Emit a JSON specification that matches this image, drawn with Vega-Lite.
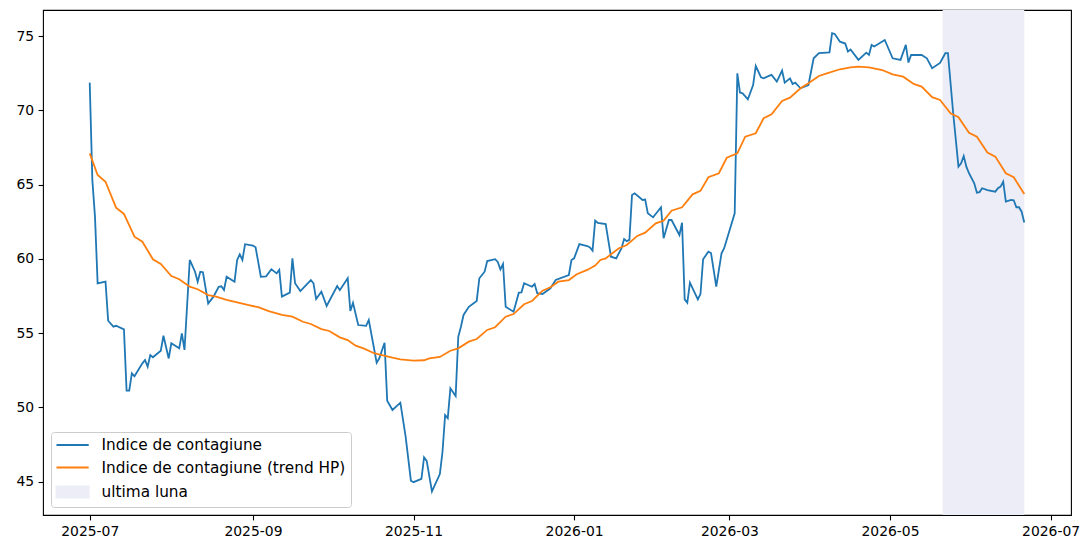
{
  "$schema": "https://vega.github.io/schema/vega-lite/v6.json",
  "width": 1028,
  "height": 505,
  "autosize": {"type": "none"},
  "padding": {"left": 43, "top": 10, "right": 18, "bottom": 25},
  "background": "white",
  "config": {
    "view": {"stroke": "#000000", "strokeWidth": 1.1},
    "axis": {"grid": false, "domain": false, "tickColor": "#000000", "tickSize": 4.9, "tickWidth": 1.1, "labelFont": "DejaVu Sans", "labelFontSize": 13.9, "labelColor": "#000000", "labelPadding": 4.5, "title": null},
    "legend": {"orient": "bottom-left", "offset": 8, "fillColor": "rgba(255,255,255,0.8)", "strokeColor": "#cccccc", "strokeWidth": 1, "cornerRadius": 3, "padding": 5, "labelFont": "DejaVu Sans", "labelFontSize": 15.3, "labelColor": "#000000", "labelLimit": 500, "symbolSize": 196, "symbolStrokeWidth": 1.8, "symbolOffset": 8.6, "labelOffset": 21, "rowPadding": 5.5}
  },
  "datasets": {
    "shade": [{"start": "2026-05-21", "end": "2026-06-21", "series": "ultima luna"}],
    "lines": [
      {"date": "2025-07-01", "value": 71.87, "series": "Indice de contagiune"},
      {"date": "2025-07-02", "value": 65.3, "series": "Indice de contagiune"},
      {"date": "2025-07-03", "value": 62.85, "series": "Indice de contagiune"},
      {"date": "2025-07-04", "value": 58.36, "series": "Indice de contagiune"},
      {"date": "2025-07-07", "value": 58.47, "series": "Indice de contagiune"},
      {"date": "2025-07-08", "value": 55.84, "series": "Indice de contagiune"},
      {"date": "2025-07-10", "value": 55.44, "series": "Indice de contagiune"},
      {"date": "2025-07-11", "value": 55.5, "series": "Indice de contagiune"},
      {"date": "2025-07-14", "value": 55.26, "series": "Indice de contagiune"},
      {"date": "2025-07-15", "value": 51.13, "series": "Indice de contagiune"},
      {"date": "2025-07-16", "value": 51.13, "series": "Indice de contagiune"},
      {"date": "2025-07-17", "value": 52.3, "series": "Indice de contagiune"},
      {"date": "2025-07-18", "value": 52.1, "series": "Indice de contagiune"},
      {"date": "2025-07-21", "value": 52.97, "series": "Indice de contagiune"},
      {"date": "2025-07-22", "value": 53.2, "series": "Indice de contagiune"},
      {"date": "2025-07-23", "value": 52.75, "series": "Indice de contagiune"},
      {"date": "2025-07-24", "value": 53.53, "series": "Indice de contagiune"},
      {"date": "2025-07-25", "value": 53.38, "series": "Indice de contagiune"},
      {"date": "2025-07-28", "value": 53.82, "series": "Indice de contagiune"},
      {"date": "2025-07-29", "value": 54.83, "series": "Indice de contagiune"},
      {"date": "2025-07-31", "value": 53.3, "series": "Indice de contagiune"},
      {"date": "2025-08-01", "value": 54.32, "series": "Indice de contagiune"},
      {"date": "2025-08-04", "value": 53.98, "series": "Indice de contagiune"},
      {"date": "2025-08-05", "value": 54.99, "series": "Indice de contagiune"},
      {"date": "2025-08-06", "value": 53.87, "series": "Indice de contagiune"},
      {"date": "2025-08-08", "value": 59.93, "series": "Indice de contagiune"},
      {"date": "2025-08-10", "value": 59.14, "series": "Indice de contagiune"},
      {"date": "2025-08-11", "value": 58.47, "series": "Indice de contagiune"},
      {"date": "2025-08-12", "value": 59.14, "series": "Indice de contagiune"},
      {"date": "2025-08-13", "value": 59.1, "series": "Indice de contagiune"},
      {"date": "2025-08-15", "value": 57.0, "series": "Indice de contagiune"},
      {"date": "2025-08-17", "value": 57.46, "series": "Indice de contagiune"},
      {"date": "2025-08-19", "value": 58.13, "series": "Indice de contagiune"},
      {"date": "2025-08-20", "value": 58.16, "series": "Indice de contagiune"},
      {"date": "2025-08-21", "value": 57.91, "series": "Indice de contagiune"},
      {"date": "2025-08-22", "value": 58.8, "series": "Indice de contagiune"},
      {"date": "2025-08-25", "value": 58.47, "series": "Indice de contagiune"},
      {"date": "2025-08-26", "value": 59.93, "series": "Indice de contagiune"},
      {"date": "2025-08-27", "value": 60.31, "series": "Indice de contagiune"},
      {"date": "2025-08-28", "value": 59.93, "series": "Indice de contagiune"},
      {"date": "2025-08-29", "value": 60.99, "series": "Indice de contagiune"},
      {"date": "2025-09-01", "value": 60.9, "series": "Indice de contagiune"},
      {"date": "2025-09-02", "value": 60.78, "series": "Indice de contagiune"},
      {"date": "2025-09-03", "value": 59.8, "series": "Indice de contagiune"},
      {"date": "2025-09-04", "value": 58.8, "series": "Indice de contagiune"},
      {"date": "2025-09-06", "value": 58.83, "series": "Indice de contagiune"},
      {"date": "2025-09-08", "value": 59.3, "series": "Indice de contagiune"},
      {"date": "2025-09-10", "value": 59.03, "series": "Indice de contagiune"},
      {"date": "2025-09-11", "value": 59.26, "series": "Indice de contagiune"},
      {"date": "2025-09-12", "value": 57.46, "series": "Indice de contagiune"},
      {"date": "2025-09-15", "value": 57.73, "series": "Indice de contagiune"},
      {"date": "2025-09-16", "value": 60.04, "series": "Indice de contagiune"},
      {"date": "2025-09-17", "value": 58.36, "series": "Indice de contagiune"},
      {"date": "2025-09-19", "value": 57.84, "series": "Indice de contagiune"},
      {"date": "2025-09-23", "value": 58.58, "series": "Indice de contagiune"},
      {"date": "2025-09-24", "value": 58.36, "series": "Indice de contagiune"},
      {"date": "2025-09-25", "value": 57.3, "series": "Indice de contagiune"},
      {"date": "2025-09-27", "value": 57.8, "series": "Indice de contagiune"},
      {"date": "2025-09-29", "value": 56.83, "series": "Indice de contagiune"},
      {"date": "2025-10-03", "value": 58.18, "series": "Indice de contagiune"},
      {"date": "2025-10-04", "value": 57.9, "series": "Indice de contagiune"},
      {"date": "2025-10-07", "value": 58.7, "series": "Indice de contagiune"},
      {"date": "2025-10-08", "value": 56.5, "series": "Indice de contagiune"},
      {"date": "2025-10-09", "value": 57.05, "series": "Indice de contagiune"},
      {"date": "2025-10-11", "value": 55.55, "series": "Indice de contagiune"},
      {"date": "2025-10-14", "value": 55.5, "series": "Indice de contagiune"},
      {"date": "2025-10-15", "value": 55.89, "series": "Indice de contagiune"},
      {"date": "2025-10-18", "value": 53.01, "series": "Indice de contagiune"},
      {"date": "2025-10-19", "value": 53.31, "series": "Indice de contagiune"},
      {"date": "2025-10-21", "value": 54.36, "series": "Indice de contagiune"},
      {"date": "2025-10-22", "value": 50.46, "series": "Indice de contagiune"},
      {"date": "2025-10-24", "value": 49.83, "series": "Indice de contagiune"},
      {"date": "2025-10-27", "value": 50.32, "series": "Indice de contagiune"},
      {"date": "2025-10-29", "value": 48.03, "series": "Indice de contagiune"},
      {"date": "2025-10-31", "value": 45.07, "series": "Indice de contagiune"},
      {"date": "2025-11-01", "value": 44.97, "series": "Indice de contagiune"},
      {"date": "2025-11-04", "value": 45.2, "series": "Indice de contagiune"},
      {"date": "2025-11-05", "value": 46.64, "series": "Indice de contagiune"},
      {"date": "2025-11-06", "value": 46.4, "series": "Indice de contagiune"},
      {"date": "2025-11-08", "value": 44.35, "series": "Indice de contagiune"},
      {"date": "2025-11-11", "value": 45.52, "series": "Indice de contagiune"},
      {"date": "2025-11-12", "value": 47.0, "series": "Indice de contagiune"},
      {"date": "2025-11-13", "value": 49.49, "series": "Indice de contagiune"},
      {"date": "2025-11-14", "value": 49.27, "series": "Indice de contagiune"},
      {"date": "2025-11-15", "value": 51.29, "series": "Indice de contagiune"},
      {"date": "2025-11-17", "value": 50.77, "series": "Indice de contagiune"},
      {"date": "2025-11-18", "value": 54.76, "series": "Indice de contagiune"},
      {"date": "2025-11-19", "value": 55.44, "series": "Indice de contagiune"},
      {"date": "2025-11-20", "value": 56.23, "series": "Indice de contagiune"},
      {"date": "2025-11-22", "value": 56.78, "series": "Indice de contagiune"},
      {"date": "2025-11-25", "value": 57.17, "series": "Indice de contagiune"},
      {"date": "2025-11-26", "value": 58.7, "series": "Indice de contagiune"},
      {"date": "2025-11-28", "value": 59.14, "series": "Indice de contagiune"},
      {"date": "2025-11-29", "value": 59.86, "series": "Indice de contagiune"},
      {"date": "2025-12-02", "value": 59.98, "series": "Indice de contagiune"},
      {"date": "2025-12-03", "value": 59.8, "series": "Indice de contagiune"},
      {"date": "2025-12-04", "value": 59.3, "series": "Indice de contagiune"},
      {"date": "2025-12-05", "value": 59.66, "series": "Indice de contagiune"},
      {"date": "2025-12-06", "value": 56.78, "series": "Indice de contagiune"},
      {"date": "2025-12-09", "value": 56.45, "series": "Indice de contagiune"},
      {"date": "2025-12-11", "value": 57.73, "series": "Indice de contagiune"},
      {"date": "2025-12-12", "value": 57.75, "series": "Indice de contagiune"},
      {"date": "2025-12-13", "value": 58.36, "series": "Indice de contagiune"},
      {"date": "2025-12-16", "value": 58.13, "series": "Indice de contagiune"},
      {"date": "2025-12-17", "value": 58.31, "series": "Indice de contagiune"},
      {"date": "2025-12-18", "value": 57.69, "series": "Indice de contagiune"},
      {"date": "2025-12-20", "value": 57.64, "series": "Indice de contagiune"},
      {"date": "2025-12-23", "value": 58.02, "series": "Indice de contagiune"},
      {"date": "2025-12-25", "value": 58.58, "series": "Indice de contagiune"},
      {"date": "2025-12-30", "value": 58.92, "series": "Indice de contagiune"},
      {"date": "2025-12-31", "value": 59.93, "series": "Indice de contagiune"},
      {"date": "2026-01-01", "value": 60.04, "series": "Indice de contagiune"},
      {"date": "2026-01-03", "value": 61.0, "series": "Indice de contagiune"},
      {"date": "2026-01-06", "value": 60.87, "series": "Indice de contagiune"},
      {"date": "2026-01-07", "value": 60.78, "series": "Indice de contagiune"},
      {"date": "2026-01-08", "value": 60.56, "series": "Indice de contagiune"},
      {"date": "2026-01-09", "value": 62.58, "series": "Indice de contagiune"},
      {"date": "2026-01-10", "value": 62.42, "series": "Indice de contagiune"},
      {"date": "2026-01-13", "value": 62.35, "series": "Indice de contagiune"},
      {"date": "2026-01-15", "value": 60.15, "series": "Indice de contagiune"},
      {"date": "2026-01-17", "value": 60.04, "series": "Indice de contagiune"},
      {"date": "2026-01-19", "value": 60.72, "series": "Indice de contagiune"},
      {"date": "2026-01-20", "value": 61.34, "series": "Indice de contagiune"},
      {"date": "2026-01-21", "value": 61.2, "series": "Indice de contagiune"},
      {"date": "2026-01-22", "value": 61.28, "series": "Indice de contagiune"},
      {"date": "2026-01-23", "value": 64.31, "series": "Indice de contagiune"},
      {"date": "2026-01-24", "value": 64.42, "series": "Indice de contagiune"},
      {"date": "2026-01-27", "value": 63.97, "series": "Indice de contagiune"},
      {"date": "2026-01-28", "value": 64.0, "series": "Indice de contagiune"},
      {"date": "2026-01-29", "value": 63.07, "series": "Indice de contagiune"},
      {"date": "2026-01-31", "value": 62.8, "series": "Indice de contagiune"},
      {"date": "2026-02-03", "value": 63.48, "series": "Indice de contagiune"},
      {"date": "2026-02-04", "value": 61.39, "series": "Indice de contagiune"},
      {"date": "2026-02-06", "value": 62.62, "series": "Indice de contagiune"},
      {"date": "2026-02-07", "value": 62.62, "series": "Indice de contagiune"},
      {"date": "2026-02-10", "value": 61.61, "series": "Indice de contagiune"},
      {"date": "2026-02-11", "value": 62.44, "series": "Indice de contagiune"},
      {"date": "2026-02-12", "value": 57.28, "series": "Indice de contagiune"},
      {"date": "2026-02-13", "value": 57.05, "series": "Indice de contagiune"},
      {"date": "2026-02-14", "value": 58.4, "series": "Indice de contagiune"},
      {"date": "2026-02-17", "value": 57.28, "series": "Indice de contagiune"},
      {"date": "2026-02-18", "value": 57.64, "series": "Indice de contagiune"},
      {"date": "2026-02-19", "value": 59.98, "series": "Indice de contagiune"},
      {"date": "2026-02-21", "value": 60.49, "series": "Indice de contagiune"},
      {"date": "2026-02-22", "value": 60.4, "series": "Indice de contagiune"},
      {"date": "2026-02-24", "value": 58.13, "series": "Indice de contagiune"},
      {"date": "2026-02-26", "value": 60.38, "series": "Indice de contagiune"},
      {"date": "2026-02-27", "value": 60.72, "series": "Indice de contagiune"},
      {"date": "2026-03-03", "value": 63.07, "series": "Indice de contagiune"},
      {"date": "2026-03-04", "value": 72.5, "series": "Indice de contagiune"},
      {"date": "2026-03-05", "value": 71.2, "series": "Indice de contagiune"},
      {"date": "2026-03-06", "value": 71.15, "series": "Indice de contagiune"},
      {"date": "2026-03-08", "value": 70.75, "series": "Indice de contagiune"},
      {"date": "2026-03-10", "value": 71.71, "series": "Indice de contagiune"},
      {"date": "2026-03-11", "value": 72.99, "series": "Indice de contagiune"},
      {"date": "2026-03-13", "value": 72.23, "series": "Indice de contagiune"},
      {"date": "2026-03-14", "value": 72.16, "series": "Indice de contagiune"},
      {"date": "2026-03-16", "value": 72.32, "series": "Indice de contagiune"},
      {"date": "2026-03-17", "value": 72.39, "series": "Indice de contagiune"},
      {"date": "2026-03-19", "value": 71.94, "series": "Indice de contagiune"},
      {"date": "2026-03-21", "value": 72.68, "series": "Indice de contagiune"},
      {"date": "2026-03-22", "value": 71.87, "series": "Indice de contagiune"},
      {"date": "2026-03-24", "value": 72.16, "series": "Indice de contagiune"},
      {"date": "2026-03-25", "value": 71.78, "series": "Indice de contagiune"},
      {"date": "2026-03-26", "value": 71.87, "series": "Indice de contagiune"},
      {"date": "2026-03-28", "value": 71.49, "series": "Indice de contagiune"},
      {"date": "2026-03-31", "value": 71.71, "series": "Indice de contagiune"},
      {"date": "2026-04-02", "value": 73.51, "series": "Indice de contagiune"},
      {"date": "2026-04-04", "value": 73.85, "series": "Indice de contagiune"},
      {"date": "2026-04-08", "value": 73.9, "series": "Indice de contagiune"},
      {"date": "2026-04-09", "value": 75.2, "series": "Indice de contagiune"},
      {"date": "2026-04-10", "value": 75.15, "series": "Indice de contagiune"},
      {"date": "2026-04-12", "value": 74.63, "series": "Indice de contagiune"},
      {"date": "2026-04-14", "value": 74.5, "series": "Indice de contagiune"},
      {"date": "2026-04-15", "value": 73.96, "series": "Indice de contagiune"},
      {"date": "2026-04-16", "value": 74.1, "series": "Indice de contagiune"},
      {"date": "2026-04-19", "value": 73.4, "series": "Indice de contagiune"},
      {"date": "2026-04-22", "value": 73.89, "series": "Indice de contagiune"},
      {"date": "2026-04-23", "value": 73.74, "series": "Indice de contagiune"},
      {"date": "2026-04-24", "value": 74.41, "series": "Indice de contagiune"},
      {"date": "2026-04-25", "value": 74.3, "series": "Indice de contagiune"},
      {"date": "2026-04-29", "value": 74.74, "series": "Indice de contagiune"},
      {"date": "2026-05-02", "value": 73.51, "series": "Indice de contagiune"},
      {"date": "2026-05-05", "value": 73.4, "series": "Indice de contagiune"},
      {"date": "2026-05-07", "value": 74.41, "series": "Indice de contagiune"},
      {"date": "2026-05-08", "value": 73.22, "series": "Indice de contagiune"},
      {"date": "2026-05-09", "value": 73.73, "series": "Indice de contagiune"},
      {"date": "2026-05-13", "value": 73.73, "series": "Indice de contagiune"},
      {"date": "2026-05-15", "value": 73.51, "series": "Indice de contagiune"},
      {"date": "2026-05-17", "value": 72.84, "series": "Indice de contagiune"},
      {"date": "2026-05-20", "value": 73.2, "series": "Indice de contagiune"},
      {"date": "2026-05-22", "value": 73.85, "series": "Indice de contagiune"},
      {"date": "2026-05-23", "value": 73.85, "series": "Indice de contagiune"},
      {"date": "2026-05-25", "value": 69.81, "series": "Indice de contagiune"},
      {"date": "2026-05-27", "value": 66.21, "series": "Indice de contagiune"},
      {"date": "2026-05-28", "value": 66.44, "series": "Indice de contagiune"},
      {"date": "2026-05-29", "value": 66.93, "series": "Indice de contagiune"},
      {"date": "2026-05-30", "value": 66.21, "series": "Indice de contagiune"},
      {"date": "2026-05-31", "value": 65.77, "series": "Indice de contagiune"},
      {"date": "2026-06-02", "value": 65.09, "series": "Indice de contagiune"},
      {"date": "2026-06-03", "value": 64.46, "series": "Indice de contagiune"},
      {"date": "2026-06-04", "value": 64.5, "series": "Indice de contagiune"},
      {"date": "2026-06-05", "value": 64.76, "series": "Indice de contagiune"},
      {"date": "2026-06-07", "value": 64.64, "series": "Indice de contagiune"},
      {"date": "2026-06-10", "value": 64.53, "series": "Indice de contagiune"},
      {"date": "2026-06-11", "value": 64.76, "series": "Indice de contagiune"},
      {"date": "2026-06-12", "value": 64.87, "series": "Indice de contagiune"},
      {"date": "2026-06-13", "value": 65.2, "series": "Indice de contagiune"},
      {"date": "2026-06-14", "value": 63.86, "series": "Indice de contagiune"},
      {"date": "2026-06-16", "value": 63.97, "series": "Indice de contagiune"},
      {"date": "2026-06-17", "value": 63.95, "series": "Indice de contagiune"},
      {"date": "2026-06-18", "value": 63.48, "series": "Indice de contagiune"},
      {"date": "2026-06-19", "value": 63.48, "series": "Indice de contagiune"},
      {"date": "2026-06-20", "value": 63.18, "series": "Indice de contagiune"},
      {"date": "2026-06-21", "value": 62.45, "series": "Indice de contagiune"},
      {"date": "2025-07-01", "value": 67.11, "series": "Indice de contagiune (trend HP)"},
      {"date": "2025-07-04", "value": 65.65, "series": "Indice de contagiune (trend HP)"},
      {"date": "2025-07-07", "value": 65.2, "series": "Indice de contagiune (trend HP)"},
      {"date": "2025-07-11", "value": 63.45, "series": "Indice de contagiune (trend HP)"},
      {"date": "2025-07-14", "value": 63.03, "series": "Indice de contagiune (trend HP)"},
      {"date": "2025-07-18", "value": 61.5, "series": "Indice de contagiune (trend HP)"},
      {"date": "2025-07-21", "value": 61.16, "series": "Indice de contagiune (trend HP)"},
      {"date": "2025-07-25", "value": 59.98, "series": "Indice de contagiune (trend HP)"},
      {"date": "2025-07-28", "value": 59.66, "series": "Indice de contagiune (trend HP)"},
      {"date": "2025-08-01", "value": 58.85, "series": "Indice de contagiune (trend HP)"},
      {"date": "2025-08-04", "value": 58.63, "series": "Indice de contagiune (trend HP)"},
      {"date": "2025-08-08", "value": 58.13, "series": "Indice de contagiune (trend HP)"},
      {"date": "2025-08-11", "value": 57.96, "series": "Indice de contagiune (trend HP)"},
      {"date": "2025-08-15", "value": 57.57, "series": "Indice de contagiune (trend HP)"},
      {"date": "2025-08-18", "value": 57.46, "series": "Indice de contagiune (trend HP)"},
      {"date": "2025-08-22", "value": 57.24, "series": "Indice de contagiune (trend HP)"},
      {"date": "2025-08-26", "value": 57.08, "series": "Indice de contagiune (trend HP)"},
      {"date": "2025-08-30", "value": 56.9, "series": "Indice de contagiune (trend HP)"},
      {"date": "2025-09-03", "value": 56.75, "series": "Indice de contagiune (trend HP)"},
      {"date": "2025-09-07", "value": 56.49, "series": "Indice de contagiune (trend HP)"},
      {"date": "2025-09-12", "value": 56.23, "series": "Indice de contagiune (trend HP)"},
      {"date": "2025-09-16", "value": 56.11, "series": "Indice de contagiune (trend HP)"},
      {"date": "2025-09-20", "value": 55.77, "series": "Indice de contagiune (trend HP)"},
      {"date": "2025-09-23", "value": 55.62, "series": "Indice de contagiune (trend HP)"},
      {"date": "2025-09-27", "value": 55.28, "series": "Indice de contagiune (trend HP)"},
      {"date": "2025-09-30", "value": 55.15, "series": "Indice de contagiune (trend HP)"},
      {"date": "2025-10-04", "value": 54.72, "series": "Indice de contagiune (trend HP)"},
      {"date": "2025-10-07", "value": 54.54, "series": "Indice de contagiune (trend HP)"},
      {"date": "2025-10-10", "value": 54.16, "series": "Indice de contagiune (trend HP)"},
      {"date": "2025-10-13", "value": 53.98, "series": "Indice de contagiune (trend HP)"},
      {"date": "2025-10-17", "value": 53.65, "series": "Indice de contagiune (trend HP)"},
      {"date": "2025-10-20", "value": 53.53, "series": "Indice de contagiune (trend HP)"},
      {"date": "2025-10-24", "value": 53.35, "series": "Indice de contagiune (trend HP)"},
      {"date": "2025-10-27", "value": 53.24, "series": "Indice de contagiune (trend HP)"},
      {"date": "2025-11-01", "value": 53.15, "series": "Indice de contagiune (trend HP)"},
      {"date": "2025-11-05", "value": 53.18, "series": "Indice de contagiune (trend HP)"},
      {"date": "2025-11-07", "value": 53.3, "series": "Indice de contagiune (trend HP)"},
      {"date": "2025-11-11", "value": 53.4, "series": "Indice de contagiune (trend HP)"},
      {"date": "2025-11-15", "value": 53.82, "series": "Indice de contagiune (trend HP)"},
      {"date": "2025-11-18", "value": 53.98, "series": "Indice de contagiune (trend HP)"},
      {"date": "2025-11-22", "value": 54.43, "series": "Indice de contagiune (trend HP)"},
      {"date": "2025-11-25", "value": 54.61, "series": "Indice de contagiune (trend HP)"},
      {"date": "2025-11-29", "value": 55.22, "series": "Indice de contagiune (trend HP)"},
      {"date": "2025-12-02", "value": 55.4, "series": "Indice de contagiune (trend HP)"},
      {"date": "2025-12-06", "value": 56.11, "series": "Indice de contagiune (trend HP)"},
      {"date": "2025-12-09", "value": 56.29, "series": "Indice de contagiune (trend HP)"},
      {"date": "2025-12-13", "value": 56.95, "series": "Indice de contagiune (trend HP)"},
      {"date": "2025-12-16", "value": 57.17, "series": "Indice de contagiune (trend HP)"},
      {"date": "2025-12-20", "value": 57.86, "series": "Indice de contagiune (trend HP)"},
      {"date": "2025-12-23", "value": 58.09, "series": "Indice de contagiune (trend HP)"},
      {"date": "2025-12-26", "value": 58.47, "series": "Indice de contagiune (trend HP)"},
      {"date": "2025-12-30", "value": 58.58, "series": "Indice de contagiune (trend HP)"},
      {"date": "2026-01-02", "value": 58.97, "series": "Indice de contagiune (trend HP)"},
      {"date": "2026-01-06", "value": 59.26, "series": "Indice de contagiune (trend HP)"},
      {"date": "2026-01-09", "value": 59.55, "series": "Indice de contagiune (trend HP)"},
      {"date": "2026-01-11", "value": 59.93, "series": "Indice de contagiune (trend HP)"},
      {"date": "2026-01-13", "value": 60.04, "series": "Indice de contagiune (trend HP)"},
      {"date": "2026-01-18", "value": 60.72, "series": "Indice de contagiune (trend HP)"},
      {"date": "2026-01-21", "value": 60.94, "series": "Indice de contagiune (trend HP)"},
      {"date": "2026-01-25", "value": 61.55, "series": "Indice de contagiune (trend HP)"},
      {"date": "2026-01-28", "value": 61.77, "series": "Indice de contagiune (trend HP)"},
      {"date": "2026-02-01", "value": 62.4, "series": "Indice de contagiune (trend HP)"},
      {"date": "2026-02-04", "value": 62.58, "series": "Indice de contagiune (trend HP)"},
      {"date": "2026-02-07", "value": 63.25, "series": "Indice de contagiune (trend HP)"},
      {"date": "2026-02-11", "value": 63.48, "series": "Indice de contagiune (trend HP)"},
      {"date": "2026-02-15", "value": 64.35, "series": "Indice de contagiune (trend HP)"},
      {"date": "2026-02-18", "value": 64.58, "series": "Indice de contagiune (trend HP)"},
      {"date": "2026-02-21", "value": 65.5, "series": "Indice de contagiune (trend HP)"},
      {"date": "2026-02-25", "value": 65.77, "series": "Indice de contagiune (trend HP)"},
      {"date": "2026-02-28", "value": 66.82, "series": "Indice de contagiune (trend HP)"},
      {"date": "2026-03-04", "value": 67.11, "series": "Indice de contagiune (trend HP)"},
      {"date": "2026-03-07", "value": 68.23, "series": "Indice de contagiune (trend HP)"},
      {"date": "2026-03-11", "value": 68.46, "series": "Indice de contagiune (trend HP)"},
      {"date": "2026-03-14", "value": 69.47, "series": "Indice de contagiune (trend HP)"},
      {"date": "2026-03-17", "value": 69.74, "series": "Indice de contagiune (trend HP)"},
      {"date": "2026-03-21", "value": 70.64, "series": "Indice de contagiune (trend HP)"},
      {"date": "2026-03-24", "value": 70.86, "series": "Indice de contagiune (trend HP)"},
      {"date": "2026-03-28", "value": 71.49, "series": "Indice de contagiune (trend HP)"},
      {"date": "2026-03-31", "value": 71.83, "series": "Indice de contagiune (trend HP)"},
      {"date": "2026-04-04", "value": 72.32, "series": "Indice de contagiune (trend HP)"},
      {"date": "2026-04-07", "value": 72.5, "series": "Indice de contagiune (trend HP)"},
      {"date": "2026-04-12", "value": 72.77, "series": "Indice de contagiune (trend HP)"},
      {"date": "2026-04-16", "value": 72.9, "series": "Indice de contagiune (trend HP)"},
      {"date": "2026-04-19", "value": 72.95, "series": "Indice de contagiune (trend HP)"},
      {"date": "2026-04-23", "value": 72.9, "series": "Indice de contagiune (trend HP)"},
      {"date": "2026-04-28", "value": 72.72, "series": "Indice de contagiune (trend HP)"},
      {"date": "2026-05-02", "value": 72.43, "series": "Indice de contagiune (trend HP)"},
      {"date": "2026-05-06", "value": 72.27, "series": "Indice de contagiune (trend HP)"},
      {"date": "2026-05-10", "value": 71.78, "series": "Indice de contagiune (trend HP)"},
      {"date": "2026-05-13", "value": 71.6, "series": "Indice de contagiune (trend HP)"},
      {"date": "2026-05-17", "value": 70.89, "series": "Indice de contagiune (trend HP)"},
      {"date": "2026-05-20", "value": 70.7, "series": "Indice de contagiune (trend HP)"},
      {"date": "2026-05-24", "value": 69.81, "series": "Indice de contagiune (trend HP)"},
      {"date": "2026-05-27", "value": 69.54, "series": "Indice de contagiune (trend HP)"},
      {"date": "2026-05-31", "value": 68.5, "series": "Indice de contagiune (trend HP)"},
      {"date": "2026-06-03", "value": 68.23, "series": "Indice de contagiune (trend HP)"},
      {"date": "2026-06-07", "value": 67.16, "series": "Indice de contagiune (trend HP)"},
      {"date": "2026-06-10", "value": 66.89, "series": "Indice de contagiune (trend HP)"},
      {"date": "2026-06-14", "value": 65.77, "series": "Indice de contagiune (trend HP)"},
      {"date": "2026-06-17", "value": 65.5, "series": "Indice de contagiune (trend HP)"},
      {"date": "2026-06-21", "value": 64.37, "series": "Indice de contagiune (trend HP)"}
    ]
  },
  "layer": [
    {
      "data": {"name": "shade"},
      "mark": {"type": "rect", "opacity": 1},
      "encoding": {
        "x": {"field": "start", "type": "temporal",
          "scale": {"type": "utc", "domain": [{"year": 2025, "month": 6, "date": 13, "hours": 6, "utc": true}, {"year": 2026, "month": 7, "date": 8, "hours": 18, "utc": true}], "nice": false},
          "axis": {"format": "%Y-%m", "values": [{"year": 2025, "month": 7, "date": 1, "utc": true}, {"year": 2025, "month": 9, "date": 1, "utc": true}, {"year": 2025, "month": 11, "date": 1, "utc": true}, {"year": 2026, "month": 1, "date": 1, "utc": true}, {"year": 2026, "month": 3, "date": 1, "utc": true}, {"year": 2026, "month": 5, "date": 1, "utc": true}, {"year": 2026, "month": 7, "date": 1, "utc": true}]}},
        "x2": {"field": "end"},
        "color": {"field": "series", "type": "nominal",
          "scale": {"domain": ["Indice de contagiune", "Indice de contagiune (trend HP)", "ultima luna"], "range": ["#1f77b4", "#ff7f0e", "#ecedf6"]},
          "legend": {"title": null, "symbolType": "stroke",
            "encode": {"symbols": {"update": {
              "shape": {"signal": "datum.value === 'ultima luna' ? 'M-2.3,-0.8H2.3V0.8H-2.3Z' : 'M-2.3,0H2.3'"},
              "fill": {"signal": "datum.value === 'ultima luna' ? '#ecedf6' : 'transparent'"},
              "stroke": {"signal": "datum.value === 'ultima luna' ? 'transparent' : (datum.value === 'Indice de contagiune' ? '#1f77b4' : '#ff7f0e')"},
              "strokeWidth": {"value": 1.8},
              "opacity": {"value": 1}
            }}}}}
      }
    },
    {
      "data": {"name": "lines"},
      "mark": {"type": "line", "strokeWidth": 1.8},
      "encoding": {
        "x": {"field": "date", "type": "temporal"},
        "y": {"field": "value", "type": "quantitative",
          "scale": {"domain": [42.76, 76.76], "nice": false, "zero": false},
          "axis": {"values": [45, 50, 55, 60, 65, 70, 75]}},
        "color": {"field": "series", "type": "nominal",
          "legend": {"title": null, "symbolType": "stroke",
            "encode": {"symbols": {"update": {
              "shape": {"signal": "datum.value === 'ultima luna' ? 'M-2.3,-0.8H2.3V0.8H-2.3Z' : 'M-2.3,0H2.3'"},
              "fill": {"signal": "datum.value === 'ultima luna' ? '#ecedf6' : 'transparent'"},
              "stroke": {"signal": "datum.value === 'ultima luna' ? 'transparent' : (datum.value === 'Indice de contagiune' ? '#1f77b4' : '#ff7f0e')"},
              "strokeWidth": {"value": 1.8},
              "opacity": {"value": 1}
            }}}}}
      }
    }
  ]
}
